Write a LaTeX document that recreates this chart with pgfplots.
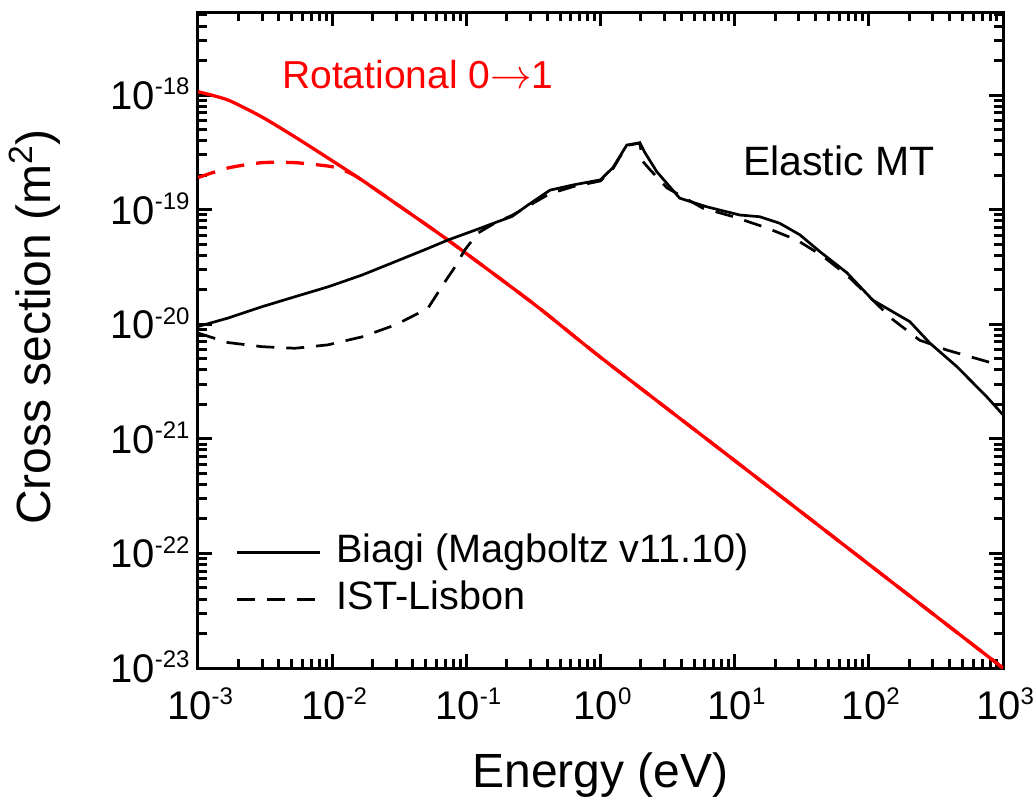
\documentclass[border=0pt]{standalone}
\usepackage{fontspec}
\setmainfont{Liberation Sans}
\usepackage{pgfplots}
\pgfplotsset{compat=1.18}

\newcommand\sps[1]{\raisebox{7.3pt}{\fontsize{12}{12}\selectfont #1}}

\begin{document}
\begin{tikzpicture}
\begin{axis}[
    scale only axis,
    width=402.5pt, height=328pt,
    xmode=log, ymode=log,
    xmin=1e-3, xmax=1e3,
    ymin=1e-23, ymax=5.3e-18,
    xtick={1e-3,1e-2,1e-1,1,10,100,1000},
    ytick={1e-23,1e-22,1e-21,1e-20,1e-19,1e-18},
    minor xtick={2e-3,3e-3,4e-3,5e-3,6e-3,7e-3,8e-3,9e-3,
                 2e-2,3e-2,4e-2,5e-2,6e-2,7e-2,8e-2,9e-2,
                 0.2,0.3,0.4,0.5,0.6,0.7,0.8,0.9,
                 2,3,4,5,6,7,8,9,
                 20,30,40,50,60,70,80,90,
                 200,300,400,500,600,700,800,900},
    minor ytick={2e-23,3e-23,4e-23,5e-23,6e-23,7e-23,8e-23,9e-23,
                 2e-22,3e-22,4e-22,5e-22,6e-22,7e-22,8e-22,9e-22,
                 2e-21,3e-21,4e-21,5e-21,6e-21,7e-21,8e-21,9e-21,
                 2e-20,3e-20,4e-20,5e-20,6e-20,7e-20,8e-20,9e-20,
                 2e-19,3e-19,4e-19,5e-19,6e-19,7e-19,8e-19,9e-19,
                 2e-18,3e-18,4e-18,5e-18},
    axis line style={line width=1.5pt},
    tick align=inside,
    xtick style={draw=black, line width=1.5pt},
    ytick style={draw=black, line width=1.5pt},
    major tick length=7pt,
    minor tick length=4.5pt,
    xticklabel={\pgfmathtruncatemacro\myexp{round(\tick/2.302585093)}10\sps{\myexp}},
    yticklabel={\pgfmathtruncatemacro\myexp{round(\tick/2.302585093)}10\sps{\myexp}},
    x tick label style={font=\fontsize{20}{24}\selectfont, anchor=base, inner sep=0pt, yshift=-25.5pt, xshift=1pt},
    y tick label style={font=\fontsize{20}{24}\selectfont, anchor=base east, inner sep=0pt, xshift=-4pt, yshift=-7.2pt},
    xlabel={Energy (eV)},
    ylabel={Cross section (m\textsuperscript{2})},
    xlabel style={font=\fontsize{24}{28}\selectfont, at={(axis description cs:0.5,-0.1814)}, anchor=base},
    ylabel style={font=\fontsize{24}{28}\selectfont, at={(axis description cs:-0.1826,0.5198)}, anchor=base},
    legend style={draw=none, fill=none, inner sep=0pt, at={(axis description cs:0.046,0.204)}, anchor=north west,
        font=\fontsize{19.8}{22}\selectfont,
        nodes={inner sep=0pt, text height=14pt, text depth=4pt},
        row sep=5.5pt, column sep=7.5pt},
    legend cell align=left,
    legend image code/.code={\draw[#1] (0pt,0pt) -- (41.5pt,0pt);},
]
% rotational 0->1, Biagi
\addplot[red, line width=1.65pt, smooth, tension=0.4, forget plot] coordinates {
(1e-3,1.07e-18) (1.675e-3,9.04e-19) (3.0e-3,6.43e-19) (5.28e-3,4.31e-19)
(9.31e-3,2.82e-19) (1.667e-2,1.81e-19) (2.94e-2,1.143e-19) (7.29e-2,5.43e-20)
(0.3243,1.479e-20) (1,5.15e-21) (10,6.46e-22) (100,8.04e-23) (1000,1e-23)};
% rotational 0->1, IST-Lisbon
\addplot[red, line width=1.65pt, dash pattern=on 9pt off 6pt, smooth, tension=0.4, forget plot] coordinates {
(1e-3,1.905e-19) (1.675e-3,2.31e-19) (3.0e-3,2.57e-19) (5.28e-3,2.57e-19)
(9.31e-3,2.40e-19) (1.12e-2,2.29e-19) (1.41e-2,2.04e-19) (1.667e-2,1.81e-19)
(2.94e-2,1.143e-19) (7.29e-2,5.43e-20) (0.3243,1.479e-20) (1,5.15e-21)
(10,6.46e-22) (100,8.04e-23) (1000,1e-23)};
% elastic MT, Biagi
\addplot[black, line width=1.35pt] coordinates {
(1e-3,9.55e-21) (1.675e-3,1.132e-20) (3.0e-3,1.422e-20) (5.28e-3,1.738e-20)
(9.31e-3,2.12e-20) (1.667e-2,2.685e-20) (2.94e-2,3.51e-20) (5.18e-2,4.59e-20)
(7.29e-2,5.43e-20) (0.1219,6.76e-20) (0.1633,7.69e-20) (0.2188,8.71e-20)
(0.2877,1.096e-19) (0.42,1.479e-19) (0.622,1.64e-19) (1.0,1.82e-19)
(1.242,2.34e-19) (1.57,3.66e-19) (1.963,3.84e-19) (2.138,3.16e-19)
(2.63,2.14e-19) (3.89,1.26e-19) (6.17,1.06e-19) (10.94,8.97e-20)
(15.42,8.67e-20) (21.73,7.59e-20) (30.6,6.03e-20) (43.2,4.30e-20)
(68.5,2.82e-20) (107.2,1.62e-20) (202.3,1.052e-20) (285.1,6.84e-21)
(452.9,4.27e-21) (758.6,2.32e-21) (1000,1.62e-21)};
\addlegendentry{Biagi (Magboltz v11.10)}
% elastic MT, IST-Lisbon
\addplot[black, line width=1.35pt, dash pattern=on 9pt off 6pt] coordinates {
(1e-3,8.37e-21) (1.675e-3,6.92e-21) (3.0e-3,6.37e-21) (5.28e-3,6.17e-21)
(9.31e-3,6.61e-21) (1.667e-2,7.76e-21) (2.94e-2,9.84e-21) (4.47e-2,1.259e-20)
(5.18e-2,1.38e-20) (6.58e-2,2.14e-20) (8.22e-2,3.16e-20) (9.77e-2,4.47e-20)
(0.1219,6.24e-20) (0.1633,7.64e-20) (0.2188,8.91e-20) (0.2877,1.07e-19)
(0.42,1.38e-19) (0.622,1.585e-19) (1.0,1.78e-19) (1.242,2.29e-19)
(1.57,3.63e-19) (1.963,3.80e-19) (2.07,2.63e-19) (2.333,2.24e-19)
(3.126,1.55e-19) (5.79,1.03e-19) (9.70,8.71e-20) (17.38,6.92e-20)
(29.04,5.43e-20) (44.7,3.98e-20) (68.5,2.69e-20) (151.4,1.096e-20)
(239.9,7.24e-21) (285.1,6.76e-21) (380.2,5.96e-21) (839.5,4.57e-21)
(950,4.42e-21)};
\addlegendentry{IST-Lisbon}

\node[anchor=base west, text=red, font=\fontsize{19.5}{22}\selectfont, inner sep=0pt]
    at (axis cs:4.22e-3,1.15e-18) {Rotational 0$\rightarrow$1};
\node[anchor=base west, font=\fontsize{20.5}{24}\selectfont, inner sep=0pt]
    at (axis cs:11.5,2.0e-19) {Elastic MT};
\end{axis}
\path (-99pt,-64pt) (419pt,334pt);
\end{tikzpicture}
\end{document}
